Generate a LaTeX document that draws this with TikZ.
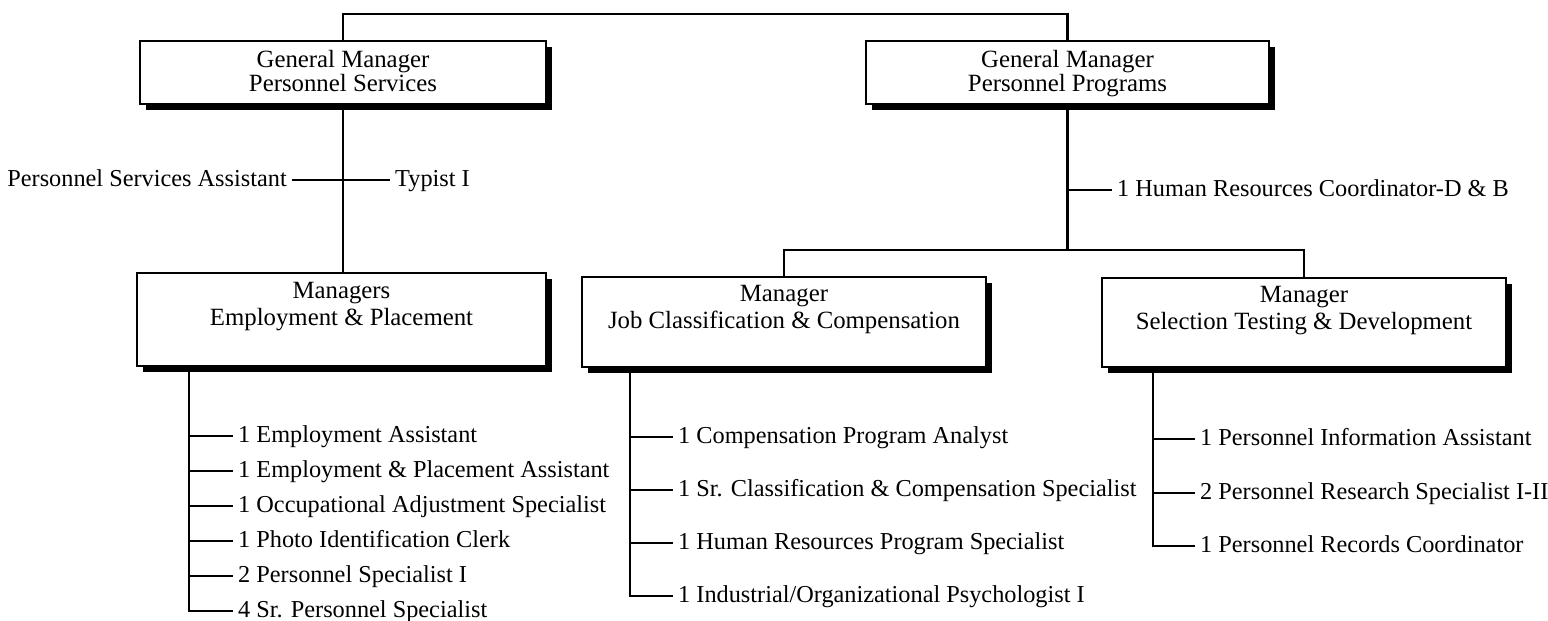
\documentclass[tikz,border=0pt]{standalone}
\usepackage{fontspec}
\setmainfont{Liberation Serif}
\usetikzlibrary{shadows}
\begin{document}
\begin{tikzpicture}[x=1pt,y=-1pt,
  box/.style={draw, line width=2.4pt, fill=white, anchor=north west, inner sep=0pt, outer sep=0pt,
    drop shadow={shadow xshift=6pt, shadow yshift=-6pt, fill=black, opacity=1}},
  btext/.style={anchor=north, align=center, inner sep=0pt, font=\fontsize{24.8}{24}\selectfont},
  btextlow/.style={btext, font=\fontsize{24.8}{27}\selectfont},
  lbl/.style={inner xsep=5pt, inner ysep=0pt, font=\fontsize{24.3}{26}\selectfont},
  conn/.style={line width=2.6pt}]
\useasboundingbox (0,0) rectangle (1548,621);

% boxes
\node[box, minimum width=406pt, minimum height=63pt] (gmps) at (140,41) {};
\node[box, minimum width=403pt, minimum height=63pt] (gmpp) at (866,41) {};
\node[box, minimum width=409pt, minimum height=93pt] (mep) at (137,273) {};
\node[box, minimum width=404pt, minimum height=90pt] (jcc) at (582,277) {};
\node[box, minimum width=404pt, minimum height=89pt] (std) at (1102,278) {};

\node[btext] (gmpst) at ([yshift=-9pt]gmps.north) {General Manager\\Personnel Services};
\node[btext] (gmppt) at ([yshift=-9pt]gmpp.north) {General Manager\\Personnel Programs};
\node[btextlow] (mept) at ([yshift=-9pt]mep.north) {Managers\\Employment \& Placement};
\node[btextlow] (jcct) at ([yshift=-8pt]jcc.north) {Manager\\Job Classification \& Compensation};
\node[btextlow] (stdt) at ([yshift=-8pt]std.north) {Manager\\Selection Testing \& Development};

% top connector
\draw[conn] (gmps.north) -- ++(0,-27) -| (gmpp.north);

% left trunk
\draw[conn] (gmps.south) -- (gmps.south |- mep.north);
\node[lbl, anchor=base east] (psa) at (292,186) {Personnel Services Assistant};
\node[lbl, anchor=base west] (typ) at (390,186) {Typist I};
\draw[conn] ([yshift=6pt]psa.base east) -- ([yshift=6pt]typ.base west);

% right trunk
\coordinate (bar) at (0,250);
\draw[conn] (gmpp.south) -- (gmpp.south |- bar);
\draw[conn] (jcc.north) |- (bar -| std.north) -- (std.north);
\node[lbl, anchor=base west] (hr) at (1112,196) {1 Human Resources Coordinator-D \& B};
\draw[conn] ([yshift=6pt]hr.base west -| gmpp.south) -- ([yshift=6pt]hr.base west);

% left list
\coordinate (mt) at ([xshift=52pt]mep.south west);
\node[lbl, anchor=base west] (e1) at (233,442) {1 Employment Assistant};
\node[lbl, anchor=base west] (e2) at (233,477) {1 Employment \& Placement Assistant};
\node[lbl, anchor=base west] (e3) at (233,512) {1 Occupational Adjustment Specialist};
\node[lbl, anchor=base west] (e4) at (233,547) {1 Photo Identification Clerk};
\node[lbl, anchor=base west] (e5) at (233,582) {2 Personnel Specialist I};
\node[lbl, anchor=base west] (e6) at (233,617) {4 Sr. Personnel Specialist};
\draw[conn] (mt) |- ([yshift=6pt]e6.base west);
\foreach \i in {1,...,5} \draw[conn] ([yshift=6pt]e\i.base west -| mt) -- ([yshift=6pt]e\i.base west);

% middle list
\coordinate (jt) at ([xshift=48pt]jcc.south west);
\node[lbl, anchor=base west] (c1) at (673,443) {1 Compensation Program Analyst};
\node[lbl, anchor=base west] (c2) at (673,496) {1 Sr. Classification \& Compensation Specialist};
\node[lbl, anchor=base west] (c3) at (673,549) {1 Human Resources Program Specialist};
\node[lbl, anchor=base west] (c4) at (673,602) {1 Industrial/Organizational Psychologist I};
\draw[conn] (jt) |- ([yshift=6pt]c4.base west);
\foreach \i in {1,...,3} \draw[conn] ([yshift=6pt]c\i.base west -| jt) -- ([yshift=6pt]c\i.base west);

% right list
\coordinate (st) at ([xshift=51pt]std.south west);
\node[lbl, anchor=base west] (s1) at (1195,445) {1 Personnel Information Assistant};
\node[lbl, anchor=base west] (s2) at (1195,499) {2 Personnel Research Specialist I-II};
\node[lbl, anchor=base west] (s3) at (1195,552) {1 Personnel Records Coordinator};
\draw[conn] (st) |- ([yshift=6pt]s3.base west);
\foreach \i in {1,2} \draw[conn] ([yshift=6pt]s\i.base west -| st) -- ([yshift=6pt]s\i.base west);
\end{tikzpicture}
\end{document}
